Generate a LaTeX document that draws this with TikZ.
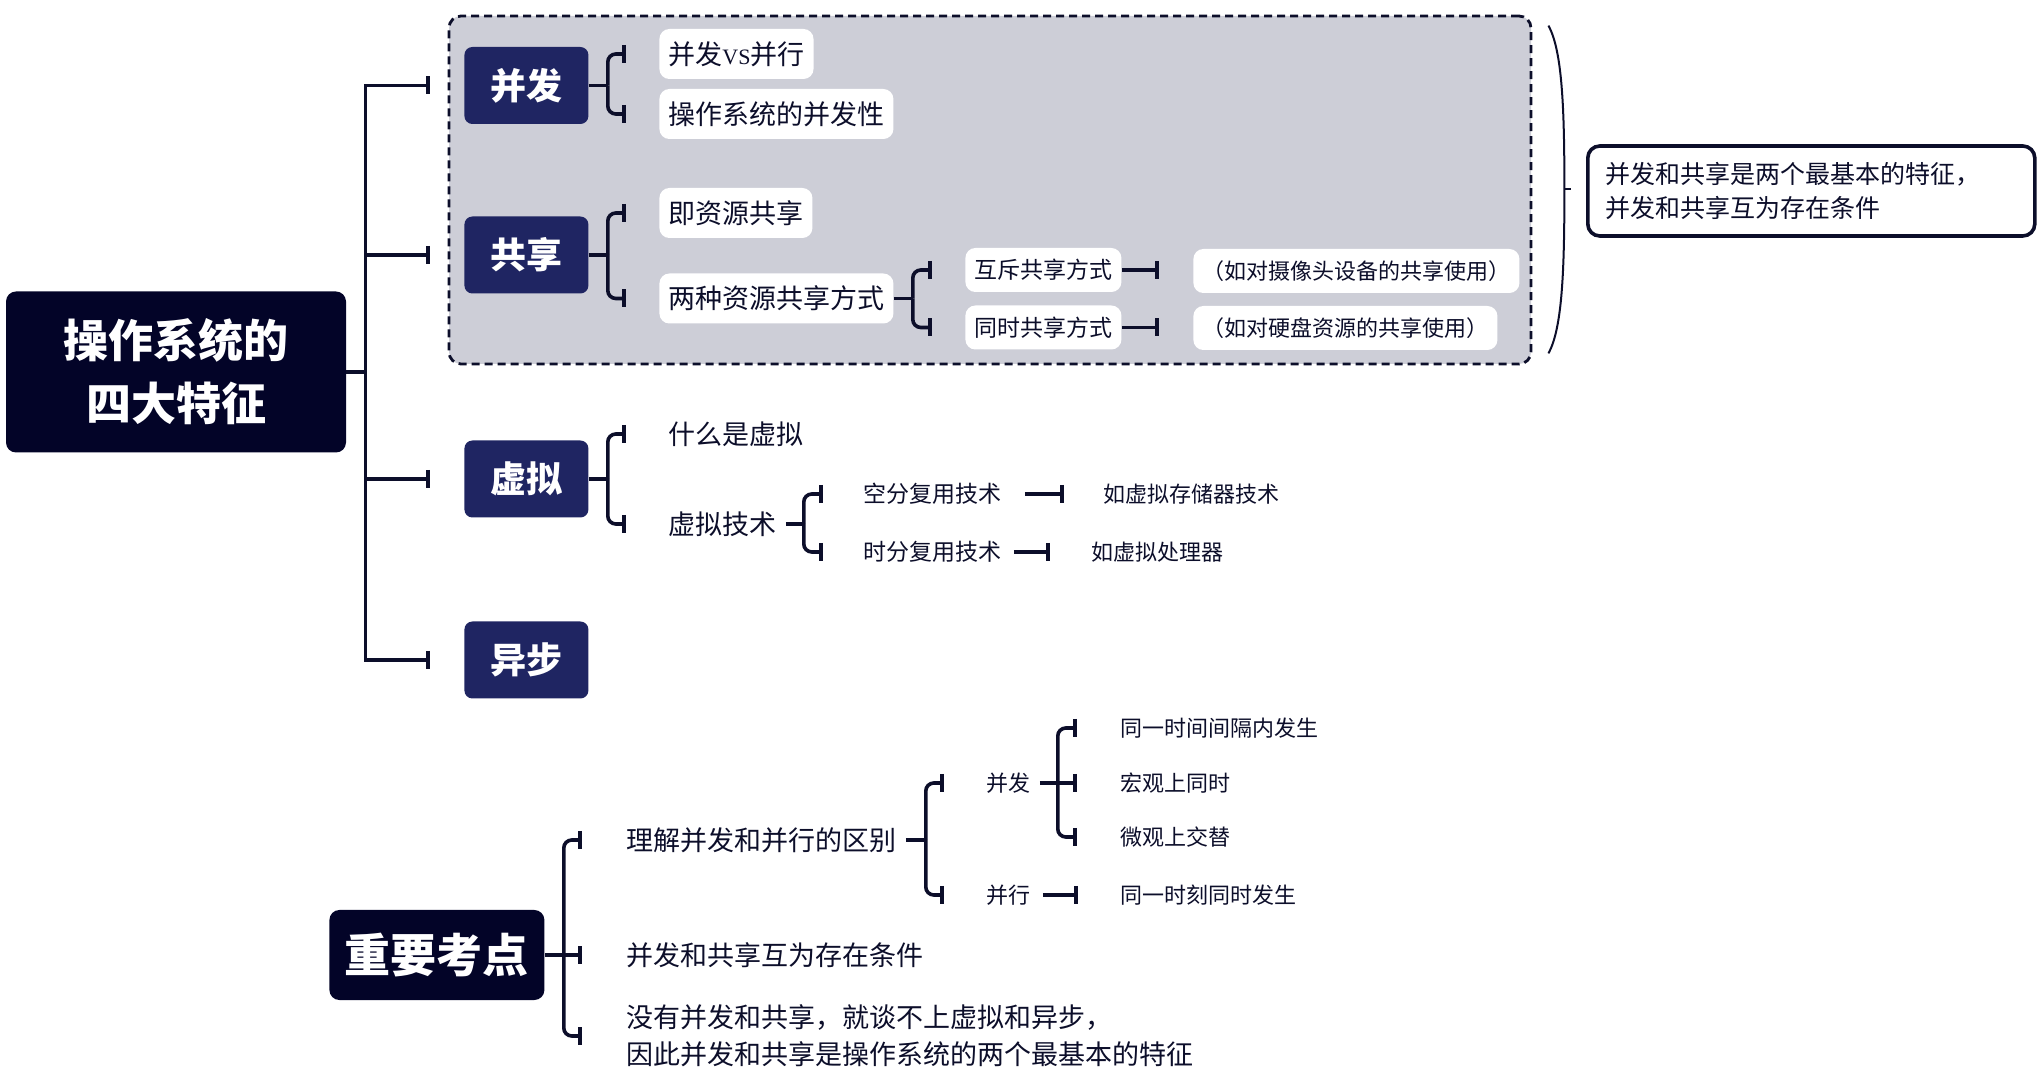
\documentclass[tikz,border=0pt]{standalone}
\usepackage{fontspec}
\setmainfont{Noto Sans CJK SC}
\newfontfamily\latinserif{Liberation Serif}
\usetikzlibrary{arrows.meta,calc}
\definecolor{rootc}{RGB}{3,4,40}
\definecolor{topicc}{RGB}{31,37,98}
\definecolor{groupc}{RGB}{205,206,215}
\definecolor{linec}{RGB}{12,14,42}

\begin{document}
\begin{tikzpicture}[
            x=0.5pt, y=-0.5pt,
            root/.style={rectangle, rounded corners=5pt, fill=rootc, text=white, align=center, font=\fontsize{22.5}{31.5}\selectfont\bfseries},
            topic/.style={rectangle, rounded corners=4pt, fill=topicc, text=white, anchor=west, minimum width=62pt, minimum height=38.5pt, font=\fontsize{18}{22}\selectfont\bfseries},
            card/.style={rectangle, rounded corners=5pt, fill=white, text=linec, anchor=west, inner xsep=4.5pt, minimum height=25pt, font=\fontsize{13.5}{16}\selectfont},
            smallcard/.style={card, minimum height=22pt, font=\fontsize{11.5}{14}\selectfont},
            excard/.style={smallcard, font=\fontsize{11}{14}\selectfont},
            leaf/.style={text=linec, anchor=west, inner xsep=4.5pt, font=\fontsize{13.5}{16}\selectfont},
            smallleaf/.style={leaf, font=\fontsize{11}{13}\selectfont},
            note/.style={rectangle, rounded corners=6pt, draw=linec, line width=1.8pt, fill=white, text=linec, anchor=west, text width=205.5pt, inner xsep=9pt, minimum height=45pt, align=left, font=\fontsize{12.5}{17}\selectfont},
            group/.style={rectangle, rounded corners=6pt, fill=groupc, draw=linec, line width=1.4pt, dash pattern=on 4pt off 2.5pt, minimum width=541pt, minimum height=174pt, inner sep=0pt},
            link/.style={draw=linec, line width=1.8pt},
            tick/.style={link, -{Bar[width=9pt]}, shorten >=17pt},
            branch/.style={link, rounded corners=4pt, -{Bar[width=9pt]}, shorten >=16.5pt},
            brace/.style={draw=linec, line width=1pt}
        ]
        \useasboundingbox (0,0) rectangle (2042,1079);

        % Shaded group round the first two features
        \node[group] (grp) at (990,190) {};

        % Root and the four features
        \node[root, minimum width=170pt, minimum height=80.5pt] (root) at (176,372) {操作系统的\\四大特征};
        \node[topic] (bingfa) at (464,85.5) {并发};
        \node[topic] (gongxiang) at (464,255) {共享};
        \node[topic] (xuni) at (464,479) {虚拟};
        \node[topic] (yibu) at (464,660) {异步};

        % Concurrency and sharing cards
        \node[card] (vs) at (659,54) {并发{\latinserif\fontsize{11}{13}\selectfont VS}并行};
        \node[card] (bfx) at (659,114) {操作系统的并发性};
        \node[card] (zygx) at (659,213) {即资源共享};
        \node[card] (lzfs) at (659,298.5) {两种资源共享方式};
        \node[smallcard] (hc) at (965,270) {互斥共享方式};
        \node[smallcard] (ts) at (965,327.5) {同时共享方式};
        \node[excard] (hcex) at (1193,271) {（如对摄像头设备的共享使用）};
        \node[excard] (tsex) at (1193,328) {（如对硬盘资源的共享使用）};

        % Note beside the group
        \node[note] (summary) at (1586,191) {并发和共享是两个最基本的特征，\\并发和共享互为存在条件};

        % Virtual
        \node[leaf] (wsx) at (659,434) {什么是虚拟};
        \node[leaf] (xnjs) at (659,524) {虚拟技术};
        \node[smallleaf, font=\fontsize{11.5}{14}\selectfont] (kf) at (854,494) {空分复用技术};
        \node[smallleaf, font=\fontsize{11.5}{14}\selectfont] (sf) at (854,552) {时分复用技术};
        \node[smallleaf] (kfex) at (1094,494) {如虚拟存储器技术};
        \node[smallleaf] (sfex) at (1082,552) {如虚拟处理器};

        % Key points
        \node[root, anchor=west, minimum width=107.5pt, minimum height=45pt, font=\fontsize{23}{28}\selectfont\bfseries] (kd) at (329,955) {重要考点};
        \node[leaf] (qb) at (617,840) {理解并发和并行的区别};
        \node[leaf] (hw) at (617,955) {并发和共享互为存在条件};
        \node[leaf, align=left, font=\fontsize{13.5}{18.5}\selectfont] (mb) at (617,1036) {没有并发和共享，就谈不上虚拟和异步，\\因此并发和共享是操作系统的两个最基本的特征};
        \node[smallleaf] (bf) at (977,783) {并发};
        \node[smallleaf] (bx) at (977,895) {并行};
        \node[smallleaf] (bf1) at (1111,728) {同一时间间隔内发生};
        \node[smallleaf] (bf2) at (1111,783) {宏观上同时};
        \node[smallleaf] (bf3) at (1111,837) {微观上交替};
        \node[smallleaf] (bx1) at (1111,895) {同一时刻同时发生};

        % Trunk
        \draw[link] (root.east) -- ++(19,0) coordinate (rt);
        \foreach \t in {bingfa,gongxiang,xuni,yibu}
            \draw[tick] (rt) |- (\t.west);

        % Concurrency and sharing branches
        \draw[link] (bingfa.east) -- ++(19,0) coordinate (s1);
        \foreach \c in {vs,bfx}
            \draw[branch] (s1) |- (\c.west);
        \draw[link] (gongxiang.east) -- ++(19,0) coordinate (s2);
        \foreach \c in {zygx,lzfs}
            \draw[branch] (s2) |- (\c.west);
        \draw[link] (lzfs.east) -- ++(19,0) coordinate (s3);
        \foreach \c in {hc,ts}
            \draw[branch] (s3) |- (\c.west);
        \draw[tick] (hc.east) -- (hc.east -| hcex.west);
        \draw[tick] (ts.east) -- (ts.east -| tsex.west);

        % Brace to the note
        \coordinate (bt) at ($(grp.north east)+(16,11)$);
        \coordinate (bb) at ($(grp.south east)+(16,-12)$);
        \coordinate (bm) at ($(bt)!0.5!(bb)+(16,0)$);
        \draw[brace] (bt) .. controls +(14,25) and +(0,-80) .. (bm) .. controls +(0,80) and +(14,-25) .. (bb);
        \draw[brace, shorten >=7.5pt] (bm) -- (bm -| summary.west);

        % Virtual branches
        \draw[link] (xuni.east) -- ++(19,0) coordinate (s4);
        \foreach \c in {wsx,xnjs}
            \draw[branch] (s4) |- (\c.west);
        \draw[link] (xnjs.east) -- ++(18,0) coordinate (s5);
        \foreach \c in {kf,sf}
            \draw[branch, shorten >=15.5pt] (s5) |- (\c.west);
        \draw[tick, shorten <=7pt, shorten >=15pt] (kf.east) -- (kf.east -| kfex.west);
        \draw[tick, shorten <=1.5pt, shorten >=16pt] (sf.east) -- (sf.east -| sfex.west);

        % Key point branches
        \draw[link] (kd.east) -- ++(19,0) coordinate (s6);
        \draw[branch, shorten >=17.5pt] (s6) |- (qb.west);
        \draw[tick, shorten >=17.5pt] (s6) -- (hw.west);
        \draw[branch, shorten >=17.5pt] (s6) |- (mb.west);
        \draw[link] (qb.east) -- ++(20,0) coordinate (s7);
        \foreach \c in {bf,bx}
            \draw[branch] (s7) |- (\c.west);
        \draw[link] (bf.east) -- ++(18,0) coordinate (s8);
        \draw[branch, shorten >=17pt] (s8) |- (bf1.west);
        \draw[tick] (s8) -- (bf2.west);
        \draw[branch, shorten >=17pt] (s8) |- (bf3.west);
        \draw[tick, shorten <=1.5pt, shorten >=16.5pt] (bx.east) -- (bx.east -| bx1.west);

    \end{tikzpicture}
\end{document}
